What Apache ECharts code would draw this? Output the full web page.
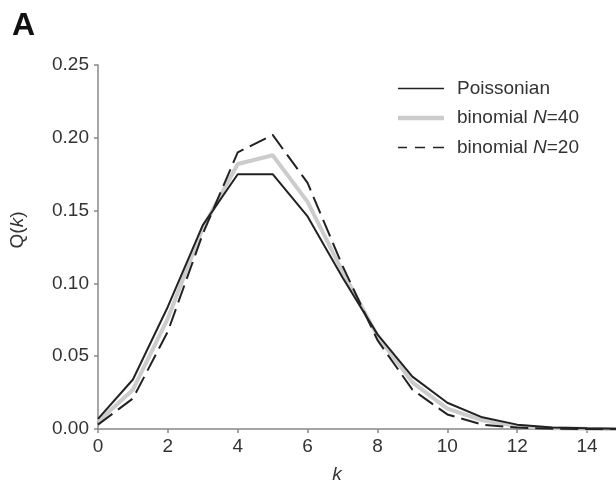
<!DOCTYPE html>
<html>
<head>
<meta charset="utf-8">
<script src="https://cdn.jsdelivr.net/npm/echarts@6/dist/echarts.min.js"></script>
<style>
html,body{margin:0;padding:0;background:#fff;}
#c{width:616px;height:484px;}
</style>
</head>
<body>
<div id="c"></div>
<script>
var kValues = [0,1,2,3,4,5,6,7,8,9,10,11,12,13,14,15];
var poisson = [0.007,0.034,0.084,0.140,0.175,0.175,0.146,0.104,0.065,0.036,0.018,0.008,0.003,0.001,0.0005,0.0002];
var binom40 = [0.005,0.027,0.076,0.138,0.182,0.188,0.156,0.108,0.064,0.032,0.014,0.006,0.002,0.0006,0.0002,0.0000];
var binom20 = [0.003,0.021,0.067,0.134,0.190,0.202,0.169,0.112,0.061,0.027,0.010,0.003,0.001,0.0002,0.0000,0.0000];
var xTicks = [0,2,4,6,8,10,12,14];
var yTicks = [0,0.05,0.10,0.15,0.20,0.25];

function pairs(arr){ return kValues.map(function(k,i){ return [k, arr[i]]; }); }

var FONT = 'Liberation Sans, Arial, sans-serif';
var TXT = '#333';
var AX = '#888';

var chart = echarts.init(document.getElementById('c'), null, {renderer:'canvas'});
chart.setOption({
  animation:false,
  backgroundColor:'#fff',
  grid:{left:98,right:-6,top:65,bottom:55,outerBoundsMode:'none',containLabel:false},
  xAxis:{
    type:'value',min:0,max:15,
    axisLine:{show:true,lineStyle:{color:AX,width:1.5}},
    axisTick:{show:true,length:4,lineStyle:{color:AX,width:1.5},customValues:xTicks},
    axisLabel:{customValues:xTicks,margin:8,color:TXT,fontFamily:FONT,fontSize:19},
    splitLine:{show:false}
  },
  yAxis:{
    type:'value',min:0,max:0.25,interval:0.05,
    axisLine:{show:true,lineStyle:{color:AX,width:1.5}},
    axisTick:{show:true,length:4,lineStyle:{color:AX,width:1.5}},
    axisLabel:{margin:9,color:TXT,fontFamily:FONT,fontSize:19,formatter:function(v){return v.toFixed(2);}},
    splitLine:{show:false}
  },
  legend:{
    orient:'vertical',left:393,top:74,itemWidth:46,itemHeight:14,itemGap:10.5,
    textStyle:{color:TXT,fontFamily:FONT,fontSize:19,lineHeight:19,padding:[0,0,0,8],
      rich:{i:{fontStyle:'italic',fontFamily:FONT,fontSize:19,color:TXT}}},
    formatter:function(name){
      if(name==='Poissonian') return 'Poissonian';
      return name.replace('N=','{i|N}=');
    },
    data:[
      {name:'Poissonian',icon:'path://M0,0L46,0L46,1.6L0,1.6Z',itemStyle:{color:'#222'}},
      {name:'binomial N=40',icon:'path://M0,0L46,0L46,4.5L0,4.5Z',itemStyle:{color:'#cccccc'}},
      {name:'binomial N=20',icon:'path://M0,0L9,0L9,1.6L0,1.6ZM17,0L27,0L27,1.6L17,1.6ZM35,0L46,0L46,1.6L35,1.6Z',itemStyle:{color:'#222'}}
    ]
  },
  series:[
    {name:'binomial N=40',type:'line',data:pairs(binom40),symbol:'none',z:2,
      lineStyle:{color:'#cccccc',width:4},itemStyle:{color:'#cccccc'}},
    {name:'Poissonian',type:'line',data:pairs(poisson),symbol:'none',z:3,
      lineStyle:{color:'#222',width:2},itemStyle:{color:'#222'}},
    {name:'binomial N=20',type:'line',data:pairs(binom20),symbol:'none',z:4,
      lineStyle:{color:'#222',width:2,type:[18,7]},itemStyle:{color:'#222'}}
  ],
  graphic:[
    {type:'text',left:12,top:10,style:{text:'A',font:'bold 32px '+FONT,fill:'#111'}},
    {type:'text',x:337,y:475,style:{text:'k',font:'italic 19px '+FONT,fill:TXT,align:'center',verticalAlign:'middle'}},
    {type:'text',x:18,y:230,rotation:Math.PI/2,
      style:{text:'Q({i|k})',font:'19px '+FONT,fill:TXT,align:'center',verticalAlign:'middle',
        rich:{i:{fontStyle:'italic',fontFamily:FONT,fontSize:19,fill:TXT}}}}
  ]
});
</script>
</body>
</html>
